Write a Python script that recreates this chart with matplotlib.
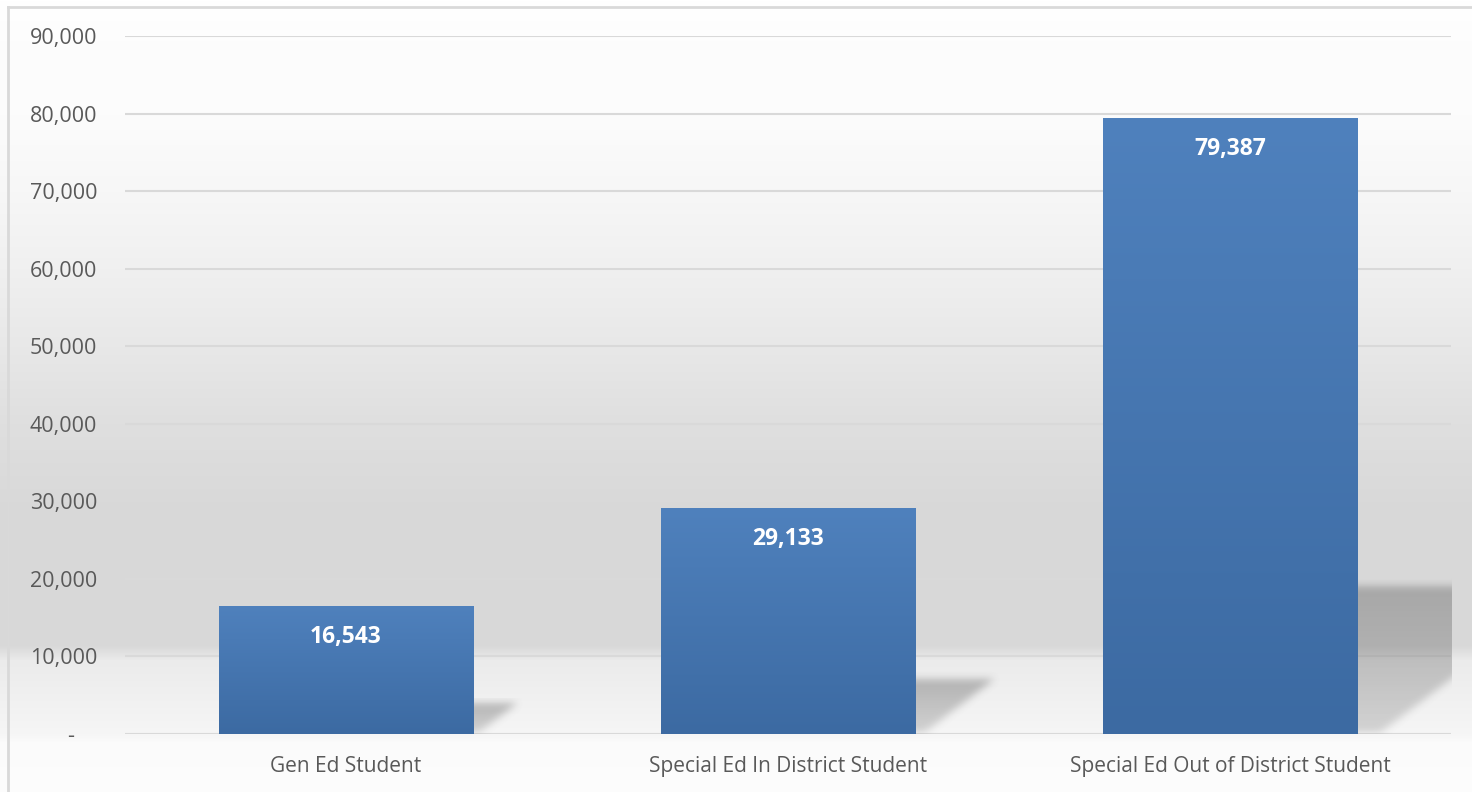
""" bar chart of cost per student, excel style """
import numpy as np
import matplotlib
matplotlib.use("Agg")
from matplotlib import pyplot as plt
from matplotlib.colors import LinearSegmentedColormap, to_rgb
from matplotlib.path import Path
from matplotlib.lines import Line2D
from matplotlib.ticker import FuncFormatter

categories = ["Gen Ed Student", "Special Ed In District Student", "Special Ed Out of District Student"]
values = [16543, 29133, 79387]
y_ticks = [0, 10000, 20000, 30000, 40000, 50000, 60000, 70000, 80000, 90000]

W, H = 1472, 792
plt.rcParams["font.family"] = ["Open Sans", "DejaVu Sans"]

fig = plt.figure(figsize=(W / 100, H / 100), dpi=100, facecolor="white")

# background gradient (pixel rows from top -> grey level)
stops = [(0, 255), (40, 253), (114, 252), (191, 247), (268, 240), (346, 232), (423, 223),
         (501, 217), (579, 216), (645, 216), (660, 235), (734, 246), (742, 251), (792, 253)]
rows = np.arange(H)
grey = np.interp(rows, [s[0] for s in stops], [s[1] for s in stops]) / 255.0
bg_img = np.repeat(grey[:, None], 4, axis=1)
bg = fig.add_axes([0, 0, 1, 1], zorder=-10)
bg.imshow(np.dstack([bg_img, bg_img, bg_img]), aspect="auto", extent=[0, 1, 0, 1])
bg.axis("off")

# outer frame
fig.add_artist(Line2D([8 / W, 8 / W], [0, 1 - 7 / H], transform=fig.transFigure, color="#d9d9d9", lw=2))
fig.add_artist(Line2D([8 / W, 1], [1 - 7 / H, 1 - 7 / H], transform=fig.transFigure, color="#d9d9d9", lw=2))

ax = fig.add_axes([125 / W, 58 / H, 1326 / W, 698 / H])
ax.set_facecolor("none")
x = np.arange(len(categories))
bar_w = 0.575

px_x = 442.0  # pixels per x unit
px_y = 698.0 / 90000  # pixels per y unit


def box_blur(a, n):
    k = np.ones(n) / n
    for _ in range(2):
        a = np.apply_along_axis(lambda r: np.convolve(r, k, mode="same"), 1, a)
        a = np.apply_along_axis(lambda c: np.convolve(c, k, mode="same"), 0, a)
    return a


# soft shadows behind the bars
for xi, v in zip(x, values):
    xr = xi + bar_w / 2
    s = 0.24 * v
    wtop = 1.45 * s * px_y / px_x
    poly = Path([(xr - 0.1, 0), (xr - 0.1, s), (xr + wtop, s), (xr + 0.1 * wtop, 0), (xr - 0.1, 0)])
    x_lo = xr - 0.05
    x_hi = xr + wtop * 1.2
    y_hi = s * 1.15
    nx = max(int((x_hi - x_lo) * px_x), 10)
    ny = max(int(y_hi * px_y), 10)
    gx, gy = np.meshgrid(np.linspace(x_lo, x_hi, nx), np.linspace(0, y_hi, ny))
    mask = poly.contains_points(np.c_[gx.ravel(), gy.ravel()]).reshape(ny, nx).astype(float)
    mask = box_blur(mask, 9)
    # darker near the top of the shadow
    mask *= 0.55 + 0.45 * (gy / s).clip(0, 1)
    rgba = np.zeros((ny, nx, 4))
    rgba[..., :3] = 0.42
    rgba[..., 3] = 0.45 * mask
    ax.imshow(rgba, origin="lower", aspect="auto", extent=[x_lo, x_hi, 0, y_hi], zorder=1,
              interpolation="bilinear")

bars = ax.bar(x, values, width=bar_w, color="#4a7ab5", zorder=2)

cmap = LinearSegmentedColormap.from_list("bar", [to_rgb("#3c6aa2"), to_rgb("#4f81bd")])
grad = np.linspace(0, 1, 256)[:, None]
for b in bars:
    x0, y0 = b.get_x(), b.get_y()
    im = ax.imshow(grad, cmap=cmap, origin="lower", aspect="auto",
                   extent=[x0, x0 + b.get_width(), y0, y0 + b.get_height()], zorder=3)
    im.set_clip_path(b)

for xi, v in zip(x, values):
    ax.text(xi, v - 31 / px_y, "{:,}".format(v), ha="center", va="center", color="white",
            fontsize=16.5, fontweight="bold", zorder=5)
ax.set_xlim(-0.5, 2.5)
ax.set_ylim(0, 90000)

ax.set_yticks(y_ticks)
ax.yaxis.set_major_formatter(FuncFormatter(lambda v, p: "{:,.0f}".format(v) if v else "-    "))
ax.set_xticks(x)
ax.set_xticklabels(categories)
ax.tick_params(axis="both", length=0, colors="#595959")
ax.tick_params(axis="y", pad=20, labelsize=15.5)
ax.tick_params(axis="x", pad=16, labelsize=15)
ax.grid(axis="y", color="#d9d9d9", lw=1.5, zorder=0)
ax.set_axisbelow(True)
for sp in ax.spines.values():
    sp.set_visible(False)

plt.savefig("out.png", dpi=100)
